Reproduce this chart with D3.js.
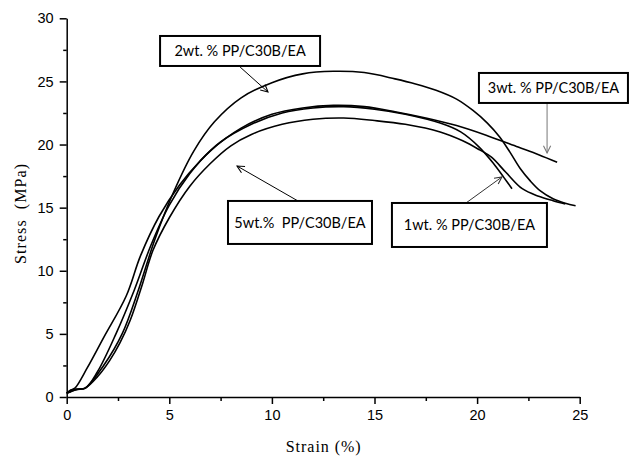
<!DOCTYPE html>
<html>
<head>
<meta charset="utf-8">
<script src="https://cdn.jsdelivr.net/npm/d3@7"></script>
<style>
  body { margin: 0; background: #fff; }
  .tick text { font-family: "Liberation Sans", Arial, sans-serif; font-size: 14.5px; fill: #000; }
  .axis-title { font-family: "Liberation Serif", "Times New Roman", serif; font-size: 16px; fill: #000; }
  .note text { font-family: Lato, "Open Sans", sans-serif; font-size: 14.5px; fill: #000; white-space: pre; }
</style>
</head>
<body>
<div class="chart"></div>
<script>
// tick values
var xTicks = [0, 5, 10, 15, 20, 25];
var yTicks = [0, 5, 10, 15, 20, 25, 30];

// curves (strain %, stress MPa)
var strain1 = [0, 0.2, 0.4, 1.0, 1.8, 2.9, 3.6, 4.5, 5.5, 6.5, 7.5, 9.0, 10.5, 12.0, 13.5, 15.0, 16.5, 18.2, 19.2, 20.1, 20.8, 21.3, 21.7];
var stress1 = [0.3, 0.55, 0.7, 2.3, 4.7, 8.0, 11.2, 14.3, 16.8, 18.7, 20.2, 21.6, 22.5, 22.9, 23.0, 22.8, 22.4, 21.7, 21.0, 19.8, 18.5, 17.4, 16.5];

var strain2 = [0, 0.5, 0.9, 1.8, 2.7, 3.5, 4.3, 5.2, 6.2, 7.2, 8.5, 10.0, 11.5, 13.0, 14.5, 16.0, 17.0, 18.0, 19.0, 19.8, 20.5, 21.1, 21.6, 22.1, 22.6, 23.1, 23.7, 24.3, 24.8];
var stress2 = [0.3, 0.6, 0.7, 2.5, 5.0, 8.5, 12.5, 16.2, 19.5, 21.8, 23.7, 24.9, 25.6, 25.8, 25.7, 25.2, 24.8, 24.3, 23.6, 22.7, 21.7, 20.6, 19.4, 18.1, 17.1, 16.3, 15.7, 15.35, 15.15];

var strain3 = [0, 0.3, 0.9, 1.5, 2.4, 3.3, 4.1, 5.0, 6.0, 7.0, 8.5, 10.0, 11.5, 13.0, 14.5, 16.0, 17.5, 19.0, 20.5, 22.0, 23.0, 23.9];
var stress3 = [0.3, 0.6, 0.7, 2.0, 5.0, 8.5, 12.0, 15.2, 17.7, 19.5, 21.3, 22.4, 22.9, 23.1, 23.0, 22.6, 22.1, 21.5, 20.7, 19.8, 19.2, 18.6];

var strain5 = [0, 0.5, 0.9, 1.5, 2.1, 2.6, 3.1, 3.7, 4.2, 5.0, 6.0, 7.0, 8.0, 9.0, 10.5, 12.0, 13.5, 15.0, 16.5, 18.2, 19.3, 20.1, 20.7, 21.4, 22.2, 23.0, 23.7, 24.3];
var stress5 = [0.3, 0.6, 0.7, 1.6, 2.9, 4.3, 6.1, 9.0, 11.6, 14.2, 16.7, 18.5, 19.9, 20.8, 21.6, 22.0, 22.1, 21.9, 21.6, 21.0, 20.3, 19.6, 19.0, 17.8, 16.5, 15.9, 15.55, 15.3];

var seriesNames = ["1wt. % PP/C30B/EA", "2wt. % PP/C30B/EA", "3wt. % PP/C30B/EA", "5wt.%  PP/C30B/EA"];

var svgWidth = 629;
var svgHeight = 456;
var margin = {top: 18.3, right: 49.3, bottom: 59, left: 66.7};
var width = svgWidth - margin.left - margin.right;
var height = svgHeight - margin.top - margin.bottom;

var svg = d3.select('.chart')
  .append('svg')
  .attr('width', svgWidth)
  .attr('height', svgHeight);

var chart = svg.append('g')
  .attr('transform', 'translate(' + margin.left + ',' + margin.top + ')');

var x = d3.scaleLinear().domain([0, 25]).range([0, width]);
var y = d3.scaleLinear().domain([0, 30]).range([height, 0]);

// major + minor ticks
var xMinor = d3.range(2.5, 25, 5);
var yMinor = d3.range(2.5, 30, 5);

chart.append('g')
  .attr('transform', 'translate(0,' + height + ')')
  .call(d3.axisBottom(x).tickValues(xMinor).tickSize(4).tickFormat(''))
  .call(function(g) { g.select('.domain').remove(); });
chart.append('g')
  .call(d3.axisLeft(y).tickValues(yMinor).tickSize(3.5).tickFormat(''))
  .call(function(g) { g.select('.domain').remove(); });

chart.append('g')
  .attr('transform', 'translate(0,' + height + ')')
  .call(d3.axisBottom(x).tickValues(xTicks).tickSize(7).tickSizeOuter(0).tickPadding(6));
chart.append('g')
  .call(d3.axisLeft(y).tickValues(yTicks).tickSize(7).tickSizeOuter(0).tickPadding(6));

chart.selectAll('.domain, .tick line').attr('stroke', '#000').attr('stroke-width', 1.5);

// axis titles
svg.append('text')
  .attr('class', 'axis-title')
  .attr('transform', 'translate(26,' + 214 + ') rotate(-90)')
  .attr('text-anchor', 'middle')
  .attr('textLength', 100)
  .attr('lengthAdjust', 'spacing')
  .style('white-space', 'pre')
  .text('Stress  (MPa)');
svg.append('text')
  .attr('class', 'axis-title')
  .attr('x', margin.left + x(12.5))
  .attr('y', 452)
  .attr('text-anchor', 'middle')
  .attr('textLength', 75)
  .attr('lengthAdjust', 'spacing')
  .text('Strain (%)');

// the curves
var line = d3.line()
  .x(function(d) { return x(d[0]); })
  .y(function(d) { return y(d[1]); })
  .curve(d3.curveCatmullRom.alpha(0.5));

var curves = [
  d3.zip(strain1, stress1),
  d3.zip(strain2, stress2),
  d3.zip(strain3, stress3),
  d3.zip(strain5, stress5)
];

chart.selectAll('path.curve')
  .data(curves)
  .enter()
  .append('path')
  .attr('class', 'curve')
  .attr('d', line)
  .attr('fill', 'none')
  .attr('stroke', '#000')
  .attr('stroke-width', 1.6);

// annotation boxes with arrows, placed in data coordinates
var notes = [
  {name: seriesNames[1], left: 4.55, top: 28.6, w: 160, h: 30, from: [8.45, 26.14], to: [9.81, 24.16], color: '#000'},
  {name: seriesNames[2], left: 20.09, top: 25.67, w: 149, h: 30, from: [23.41, 23.29], to: [23.41, 19.33], color: '#777'},
  {name: seriesNames[3], left: 7.86, top: 15.53, w: 144, h: 43, from: [11.27, 15.53], to: [8.30, 18.30], color: '#000'},
  {name: seriesNames[0], left: 15.85, top: 15.37, w: 155, h: 44, from: [19.46, 15.37], to: [21.21, 17.43], color: '#333'}
];

var defs = svg.append('defs');
notes.forEach(function(n, i) {
  defs.append('marker')
    .attr('id', 'arrow' + i)
    .attr('viewBox', '0 0 10 10')
    .attr('refX', 9)
    .attr('refY', 5)
    .attr('markerWidth', 9)
    .attr('markerHeight', 9)
    .attr('markerUnits', 'userSpaceOnUse')
    .attr('orient', 'auto')
    .append('path')
    .attr('d', 'M1,1 L9,5 L1,9')
    .attr('fill', 'none')
    .attr('stroke', n.color)
    .attr('stroke-width', 1.2);
});

var note = chart.selectAll('g.note')
  .data(notes)
  .enter()
  .append('g')
  .attr('class', 'note');

note.append('line')
  .attr('x1', function(d) { return x(d.from[0]); })
  .attr('y1', function(d) { return y(d.from[1]); })
  .attr('x2', function(d) { return x(d.to[0]); })
  .attr('y2', function(d) { return y(d.to[1]); })
  .attr('stroke', function(d) { return d.color; })
  .attr('stroke-width', 1)
  .attr('marker-end', function(d, i) { return 'url(#arrow' + i + ')'; });

note.append('rect')
  .attr('x', function(d) { return x(d.left); })
  .attr('y', function(d) { return y(d.top); })
  .attr('width', function(d) { return d.w; })
  .attr('height', function(d) { return d.h; })
  .attr('fill', '#fff')
  .attr('stroke', '#000')
  .attr('stroke-width', 2);

note.append('text')
  .attr('x', function(d) { return x(d.left) + d.w / 2; })
  .attr('y', function(d) { return y(d.top) + d.h / 2; })
  .attr('dy', '0.35em')
  .attr('text-anchor', 'middle')
  .text(function(d) { return d.name; });
</script>
</body>
</html>
